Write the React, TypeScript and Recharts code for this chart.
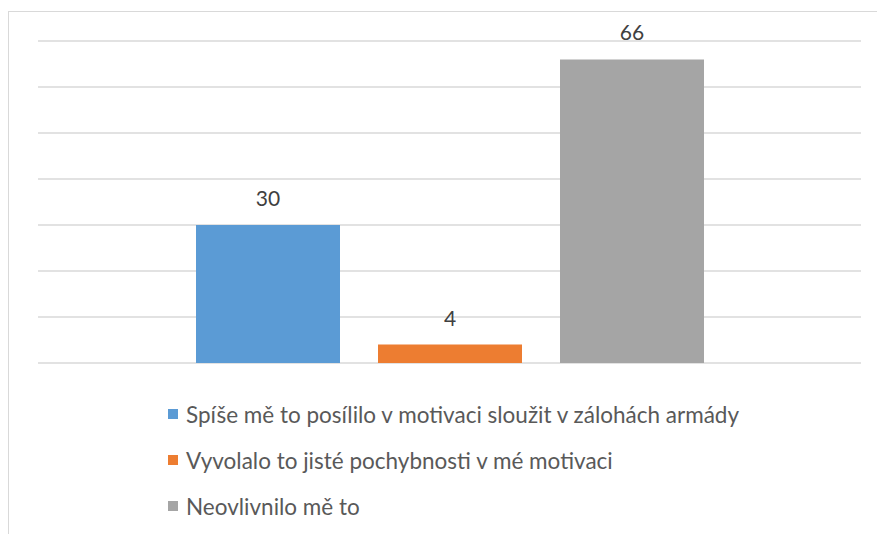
import React from 'react';
import { BarChart, Bar, XAxis, YAxis, CartesianGrid, LabelList } from 'recharts';

const categories = ['Odpověď'];
const seriesNames = [
  'Spíše mě to posílilo v motivaci sloužit v zálohách armády',
  'Vyvolalo to jisté pochybnosti v mé motivaci',
  'Neovlivnilo mě to',
];
const seriesValues = [30, 4, 66];
const seriesColors = ['#5b9bd5', '#ed7d31', '#a5a5a5'];
const yTicks = [0, 10, 20, 30, 40, 50, 60, 70];

const data = categories.map((name) => {
  const row: any = { name };
  seriesValues.forEach((v, i) => {
    row['s' + i] = v;
  });
  return row;
});

const FONT = 'Lato, "Open Sans", sans-serif';

// legend drawn as plain html under the plot
const ChartLegend = () => (
  <div
    style={{
      position: 'absolute',
      left: 168,
      top: 391,
      width: 700,
      fontFamily: FONT,
      fontSize: 22.5,
      color: '#595959',
    }}
  >
    {seriesNames.map((n, i) => (
      <div key={n} style={{ display: 'flex', alignItems: 'center', height: 46 }}>
        <span
          style={{
            display: 'inline-block',
            width: 10,
            height: 10,
            background: seriesColors[i],
            marginRight: 8,
          }}
        />
        <span>{n}</span>
      </div>
    ))}
  </div>
);

export default function App() {
  return (
    <div style={{ position: 'absolute', left: 0, top: 0, width: 877, height: 534, overflow: 'hidden', background: '#fff' }}>
      <div
        style={{
          position: 'absolute',
          left: 8,
          top: 11,
          width: 900,
          height: 600,
          borderLeft: '1px solid #d9d9d9',
          borderTop: '1px solid #d9d9d9',
        }}
      />
      <BarChart
        width={877}
        height={534}
        data={data}
        margin={{ top: 41, right: 16, left: 38, bottom: 171 }}
        barSize={144}
        barGap={38}
        style={{ position: 'absolute', left: 0, top: 0 }}
      >
        <CartesianGrid vertical={false} stroke="#d9d9d9" strokeWidth={1.5} />
        <XAxis dataKey="name" hide />
        <YAxis hide domain={[0, 70]} ticks={yTicks} />
        {seriesNames.map((n, i) => (
          <Bar key={n} dataKey={'s' + i} name={n} fill={seriesColors[i]} isAnimationActive={false}>
            <LabelList
              dataKey={'s' + i}
              position="top"
              offset={19}
              style={{ fontFamily: FONT, fontSize: 21, fill: '#404040' }}
            />
          </Bar>
        ))}
      </BarChart>
      <ChartLegend />
    </div>
  );
}
